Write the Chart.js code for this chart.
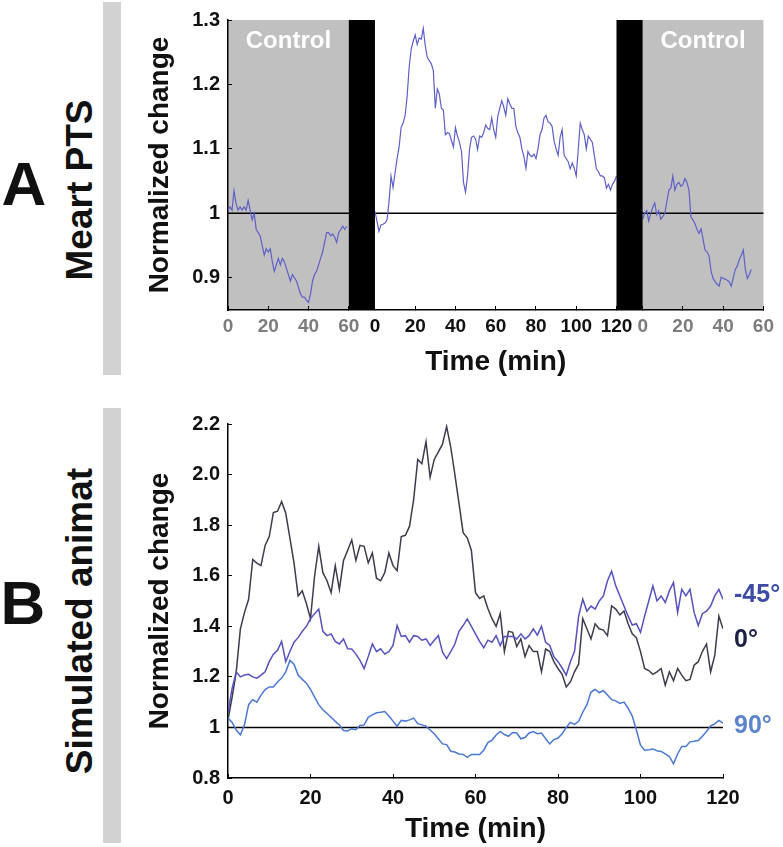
<!DOCTYPE html>
<html>
<head>
<meta charset="utf-8">
<script src="https://cdn.jsdelivr.net/npm/chart.js@4.4.1/dist/chart.umd.min.js"></script>
<style>
  html, body { margin: 0; padding: 0; background: #fff; }
  body { width: 783px; height: 847px; position: relative; overflow: hidden; font-family: "Liberation Sans", Arial, sans-serif; color: #111; }
  .panel-letter { position: absolute; font-weight: bold; font-size: 62px; line-height: 1; transform: translate(-50%, -50%); }
  .side-label { position: absolute; font-weight: bold; font-size: 37px; line-height: 1; white-space: nowrap; transform: translate(-50%, -50%) rotate(-90deg); }
  .side-bar { position: absolute; left: 103px; width: 18px; background: #d2d2d2; }
  .angle { position: absolute; left: 734px; font-weight: bold; font-size: 25px; line-height: 1; transform: translateY(-50%); }
  canvas { position: absolute; }
</style>
</head>
<body>
<div class="panel-letter" style="left:24px; top:184px;">A</div>
<div class="side-label" style="left:79px; top:190px;">Meart PTS</div>
<div class="side-bar" style="top:2px; height:373px;"></div>

<div class="panel-letter" style="left:23px; top:603px;">B</div>
<div class="side-label" style="left:79px; top:621px;">Simulated animat</div>
<div class="side-bar" style="top:408px; height:435px;"></div>

<canvas id="meartChart" width="643" height="384" style="left:140px; top:-4px; width:643px; height:384px;"></canvas>
<canvas id="animatChart" width="643" height="447" style="left:140px; top:400px; width:643px; height:447px;"></canvas>

<div class="angle" style="top:593px; color:#3d4aa6;">-45°</div>
<div class="angle" style="top:638px; color:#1c1f46;">0°</div>
<div class="angle" style="top:724px; color:#5b84cc;">90°</div>

<script>
// Panel A: normalized change, one value per minute
const controlBeforeValues = [
    1.005, 1.01, 1.005, 1.035, 1.015, 1.005, 1.01, 1.005, 1.01, 1.005,
    1.02, 1.005, 0.99, 1.0, 0.975, 0.97, 0.965, 0.95, 0.935, 0.945,
    0.94, 0.945, 0.925, 0.91, 0.92, 0.93, 0.92, 0.93, 0.925, 0.915,
    0.905, 0.895, 0.905, 0.9, 0.895, 0.885, 0.875, 0.87, 0.87, 0.865,
    0.862, 0.875, 0.895, 0.905, 0.91, 0.92, 0.93, 0.94, 0.955, 0.97,
    0.97, 0.965, 0.968, 0.963, 0.955, 0.97, 0.975, 0.98, 0.975, 0.98
];
const sessionValues = [
    1.003, 0.988, 0.972, 0.982, 0.983, 0.985, 0.99, 1.018, 1.058, 1.04,
    1.063, 1.085, 1.103, 1.133, 1.14, 1.152, 1.182, 1.227, 1.255, 1.267,
    1.277, 1.262, 1.272, 1.27, 1.287, 1.26, 1.242, 1.237, 1.232, 1.222,
    1.163, 1.193, 1.185, 1.163, 1.16, 1.122, 1.125, 1.124, 1.113, 1.103,
    1.133, 1.12, 1.11, 1.096, 1.048, 1.033, 1.058, 1.1, 1.118, 1.12,
    1.115, 1.099, 1.12, 1.118, 1.125, 1.137, 1.132, 1.13, 1.148, 1.13,
    1.118, 1.15, 1.163, 1.175, 1.165, 1.152, 1.178, 1.17, 1.163, 1.163,
    1.135, 1.125, 1.118, 1.1, 1.088, 1.07, 1.096, 1.09, 1.088, 1.092,
    1.085, 1.1, 1.122, 1.13, 1.148, 1.152, 1.142, 1.14, 1.135, 1.112,
    1.1, 1.09, 1.118, 1.13, 1.09, 1.085, 1.08, 1.069, 1.078, 1.07,
    1.058, 1.099, 1.14, 1.13, 1.122, 1.1, 1.12, 1.115, 1.11, 1.09,
    1.069, 1.065, 1.058, 1.058, 1.055, 1.039, 1.045, 1.036, 1.045, 1.05,
    1.058
];
const controlAfterValues = [
    0.991, 1.0, 1.004, 0.988, 1.0, 1.009, 1.016, 0.998, 1.004, 0.991,
    0.995, 1.0, 1.018, 1.036, 1.039, 1.058, 1.036, 1.045, 1.048, 1.042,
    1.045, 1.054, 1.048, 1.036, 0.994, 0.99, 0.984, 0.975, 0.969, 0.976,
    0.96, 0.943, 0.94, 0.934, 0.91, 0.899, 0.894, 0.89, 0.887, 0.901,
    0.899, 0.898, 0.896, 0.894, 0.887, 0.9, 0.913, 0.918, 0.928, 0.935,
    0.943, 0.913, 0.899, 0.905, 0.913
];
const controlTicks = [0, 20, 40, 60];
const sessionTicks = [0, 20, 40, 60, 80, 100, 120];
const meartYTicks = [0.9, 1, 1.1, 1.2, 1.3];
const meartYLabels = ['0.9', '1', '1.1', '1.2', '1.3'];

// Panel B: simulated animat, one value per minute (0..120)
const angle0Values = [
    1.03, 1.12, 1.22, 1.39, 1.455, 1.507, 1.664, 1.65, 1.64, 1.72,
    1.755, 1.85, 1.855, 1.893, 1.847, 1.75, 1.651, 1.52, 1.54, 1.49,
    1.43, 1.6, 1.716, 1.612, 1.58, 1.533, 1.64, 1.546, 1.66, 1.7,
    1.742, 1.66, 1.72, 1.716, 1.651, 1.69, 1.59, 1.58, 1.612, 1.69,
    1.64, 1.62, 1.755, 1.76, 1.795, 1.9, 2.06, 2.043, 2.13, 1.99,
    2.06, 2.09, 2.12, 2.19, 2.108, 2.0, 1.886, 1.77, 1.75, 1.7,
    1.533, 1.51, 1.52, 1.47, 1.43, 1.4, 1.45, 1.3, 1.38, 1.376,
    1.32, 1.35, 1.28, 1.324, 1.3, 1.3, 1.22, 1.31, 1.3, 1.26,
    1.233, 1.21, 1.16, 1.18, 1.22, 1.25, 1.43, 1.39, 1.35, 1.41,
    1.39, 1.385, 1.363, 1.481, 1.468, 1.445, 1.46, 1.41, 1.37, 1.355,
    1.3, 1.233, 1.225, 1.21, 1.22, 1.233, 1.167, 1.22, 1.185, 1.233,
    1.207, 1.185, 1.19, 1.246, 1.26, 1.3, 1.33, 1.22, 1.285, 1.44,
    1.39
];
const angleMinus45Values = [
    1.06, 1.154, 1.22, 1.2, 1.207, 1.21, 1.2, 1.195, 1.207, 1.22,
    1.26, 1.29, 1.305, 1.34, 1.26, 1.3, 1.337, 1.355, 1.38, 1.4,
    1.43, 1.45, 1.468, 1.38, 1.363, 1.37, 1.34, 1.33, 1.35, 1.311,
    1.31, 1.29, 1.265, 1.233, 1.28, 1.33, 1.3, 1.311, 1.29, 1.3,
    1.324, 1.403, 1.36, 1.363, 1.337, 1.363, 1.36, 1.345, 1.35, 1.324,
    1.345, 1.363, 1.298, 1.272, 1.3, 1.33, 1.38, 1.403, 1.429, 1.4,
    1.37, 1.34, 1.315, 1.345, 1.337, 1.363, 1.324, 1.36, 1.36, 1.36,
    1.35, 1.37, 1.35, 1.363, 1.39, 1.365, 1.4, 1.337, 1.324, 1.28,
    1.26, 1.235, 1.207, 1.26, 1.3, 1.44, 1.507, 1.46, 1.48, 1.468,
    1.5, 1.52, 1.58, 1.618, 1.56, 1.52, 1.48, 1.44, 1.405, 1.41,
    1.376, 1.44, 1.5, 1.56, 1.5, 1.52, 1.494, 1.54, 1.573, 1.455,
    1.546, 1.52, 1.546, 1.455, 1.403, 1.45, 1.46, 1.48, 1.52, 1.546,
    1.507
];
const angle90Values = [
    1.037, 1.02, 0.99, 0.971, 1.01, 1.09, 1.11, 1.1, 1.128, 1.15,
    1.16, 1.16, 1.18, 1.195, 1.22, 1.265, 1.25, 1.207, 1.19, 1.175,
    1.15, 1.12, 1.09, 1.07, 1.055, 1.04, 1.024, 1.01, 0.988, 0.986,
    0.995, 0.991, 1.008, 1.01, 1.04, 1.05, 1.058, 1.06, 1.063, 1.045,
    1.025, 1.005, 1.028, 1.025, 1.03, 1.037, 1.015, 1.01, 1.005, 0.99,
    0.975, 0.955, 0.935, 0.932, 0.906, 0.903, 0.895, 0.893, 0.882, 0.893,
    0.893, 0.893, 0.91, 0.94, 0.95, 0.97, 0.984, 0.972, 0.965, 0.98,
    0.978, 0.955, 0.96, 0.978, 0.984, 0.975, 0.978, 0.955, 0.935, 0.952,
    0.958, 0.975, 1.0, 1.02, 1.012, 1.024, 1.06, 1.09, 1.14, 1.15,
    1.138, 1.145, 1.128, 1.11, 1.105, 1.095, 1.1, 1.076, 1.045, 0.99,
    0.93, 0.91, 0.912, 0.915, 0.908, 0.905, 0.895, 0.885, 0.856, 0.895,
    0.925, 0.925, 0.943, 0.945, 0.948, 0.965, 0.984, 1.006, 1.014, 1.028,
    1.017
];
const animatYTicks = [0.8, 1, 1.2, 1.4, 1.6, 1.8, 2.0, 2.2];
const animatYLabels = ['0.8', '1', '1.2', '1.4', '1.6', '1.8', '2.0', '2.2'];

// Panel A shares one x axis: control | gap | session | gap | control
const GAP = 13;
const sessionStart = 60 + GAP;
const afterStart = sessionStart + 120 + GAP;
const xEnd = afterStart + 60;

const FONT = '"Liberation Sans", Arial, sans-serif';
const GREY_TICK = '#7c7c7c';

function toPoints(values, offset) {
    return values.map((v, i) => ({ x: offset + i, y: v }));
}

// composite tick list for panel A
const meartXTicks = [];
controlTicks.forEach(t => meartXTicks.push({ pos: t, label: String(t), color: GREY_TICK }));
sessionTicks.forEach(t => meartXTicks.push({ pos: sessionStart + t, label: String(t), color: '#111' }));
controlTicks.forEach(t => meartXTicks.push({ pos: afterStart + t, label: String(t), color: GREY_TICK }));

function drawBaseline(chart) {
    const { ctx, chartArea: a, scales: { y } } = chart;
    const py = y.getPixelForValue(1);
    ctx.save();
    ctx.strokeStyle = '#000';
    ctx.lineWidth = 1.5;
    ctx.beginPath();
    ctx.moveTo(a.left, py);
    ctx.lineTo(a.right, py);
    ctx.stroke();
    ctx.restore();
}

const meartPlugin = {
    id: 'meartBlocks',
    beforeDraw(chart) {
        const { ctx, chartArea: a, scales: { x } } = chart;
        ctx.save();
        ctx.fillStyle = '#c0c0c0';
        [[0, 60], [afterStart, xEnd]].forEach(([s, e]) => {
            const x1 = x.getPixelForValue(s), x2 = x.getPixelForValue(e);
            ctx.fillRect(x1, a.top, x2 - x1, a.bottom - a.top);
        });
        ctx.restore();
    },
    beforeDatasetsDraw(chart) {
        drawBaseline(chart);
    },
    afterDatasetsDraw(chart) {
        const { ctx, chartArea: a, scales: { x } } = chart;
        ctx.save();
        ctx.fillStyle = '#000';
        [[60, sessionStart], [sessionStart + 120, afterStart]].forEach(([s, e]) => {
            const x1 = x.getPixelForValue(s), x2 = x.getPixelForValue(e);
            ctx.fillRect(x1, a.top, x2 - x1, a.bottom - a.top);
        });
        ctx.fillStyle = '#fff';
        ctx.font = 'bold 24px ' + FONT;
        ctx.textAlign = 'center';
        ctx.textBaseline = 'middle';
        [[0, 60], [afterStart, xEnd]].forEach(([s, e]) => {
            const cx = (x.getPixelForValue(s) + x.getPixelForValue(e)) / 2;
            ctx.fillText('Control', cx, a.top + 21);
        });
        ctx.restore();
    }
};

const baselinePlugin = {
    id: 'baseline',
    beforeDatasetsDraw(chart) { drawBaseline(chart); }
};

const lineStyle = { pointRadius: 0, tension: 0, fill: false };

new Chart(document.getElementById('meartChart'), {
    type: 'line',
    data: {
        datasets: [
            { data: toPoints(controlBeforeValues, 0), borderColor: '#5d60c6', borderWidth: 1.2, ...lineStyle },
            { data: toPoints(sessionValues, sessionStart), borderColor: '#5d60c6', borderWidth: 1.2, ...lineStyle },
            { data: toPoints(controlAfterValues, afterStart), borderColor: '#5d60c6', borderWidth: 1.2, ...lineStyle }
        ]
    },
    options: {
        responsive: false,
        animation: false,
        devicePixelRatio: 1,
        layout: { padding: { top: 12, right: 19, bottom: 1, left: 0 } },
        plugins: { legend: { display: false }, tooltip: { enabled: false } },
        scales: {
            x: {
                type: 'linear',
                min: 0,
                max: xEnd,
                afterFit: s => { s.height = 69; },
                afterBuildTicks: s => { s.ticks = meartXTicks.map(t => ({ value: t.pos })); },
                grid: { drawOnChartArea: false, drawTicks: true, tickLength: -4, color: '#000', lineWidth: 1 },
                border: { display: true, color: '#000', width: 1.5 },
                ticks: {
                    autoSkip: false,
                    maxRotation: 0,
                    padding: 9,
                    callback: (v, i) => meartXTicks[i].label,
                    color: c => meartXTicks[c.index] ? meartXTicks[c.index].color : '#111',
                    font: { family: FONT, size: 19, weight: 'bold' }
                },
                title: {
                    display: true,
                    text: 'Time (min)',
                    color: '#111',
                    padding: { top: 0, bottom: 0 },
                    font: { family: FONT, size: 28, weight: 'bold' }
                }
            },
            y: {
                min: 0.85,
                max: 1.3,
                afterFit: s => { s.width = 88; },
                afterBuildTicks: s => { s.ticks = meartYTicks.map(v => ({ value: v })); },
                grid: { drawOnChartArea: false, drawTicks: true, tickLength: -4, color: '#000', lineWidth: 1 },
                border: { display: true, color: '#000', width: 1.5 },
                ticks: {
                    padding: 12,
                    color: '#111',
                    callback: (v, i) => meartYLabels[i],
                    font: { family: FONT, size: 20, weight: 'bold' }
                },
                title: {
                    display: true,
                    text: 'Normalized change',
                    color: '#111',
                    padding: { top: 3, bottom: 0 },
                    font: { family: FONT, size: 28, weight: 'bold' }
                }
            }
        }
    },
    plugins: [meartPlugin]
});

new Chart(document.getElementById('animatChart'), {
    type: 'line',
    data: {
        datasets: [
            { label: '90°', data: toPoints(angle90Values, 0), borderColor: '#4a78d2', borderWidth: 1.5, ...lineStyle },
            { label: '-45°', data: toPoints(angleMinus45Values, 0), borderColor: '#5452bd', borderWidth: 1.5, ...lineStyle },
            { label: '0°', data: toPoints(angle0Values, 0), borderColor: '#3c3c4e', borderWidth: 1.5, ...lineStyle }
        ]
    },
    options: {
        responsive: false,
        animation: false,
        devicePixelRatio: 1,
        layout: { padding: { top: 20, right: 60, bottom: 1, left: 0 } },
        plugins: { legend: { display: false }, tooltip: { enabled: false } },
        scales: {
            x: {
                type: 'linear',
                min: 0,
                max: 120,
                afterFit: s => { s.height = 68; },
                grid: { drawOnChartArea: false, drawTicks: true, tickLength: -4, color: '#000', lineWidth: 1 },
                border: { display: true, color: '#000', width: 1.5 },
                ticks: {
                    stepSize: 20,
                    maxRotation: 0,
                    padding: 12,
                    color: '#111',
                    font: { family: FONT, size: 20, weight: 'bold' }
                },
                title: {
                    display: true,
                    text: 'Time (min)',
                    color: '#111',
                    padding: { top: 0, bottom: 0 },
                    font: { family: FONT, size: 28, weight: 'bold' }
                }
            },
            y: {
                min: 0.8,
                max: 2.2,
                afterFit: s => { s.width = 88; },
                afterBuildTicks: s => { s.ticks = animatYTicks.map(v => ({ value: v })); },
                grid: { drawOnChartArea: false, drawTicks: true, tickLength: -4, color: '#000', lineWidth: 1 },
                border: { display: true, color: '#000', width: 1.5 },
                ticks: {
                    padding: 12,
                    color: '#111',
                    callback: (v, i) => animatYLabels[i],
                    font: { family: FONT, size: 20, weight: 'bold' }
                },
                title: {
                    display: true,
                    text: 'Normalized change',
                    color: '#111',
                    padding: { top: 3, bottom: 0 },
                    font: { family: FONT, size: 28, weight: 'bold' }
                }
            }
        }
    },
    plugins: [baselinePlugin]
});
</script>
</body>
</html>
